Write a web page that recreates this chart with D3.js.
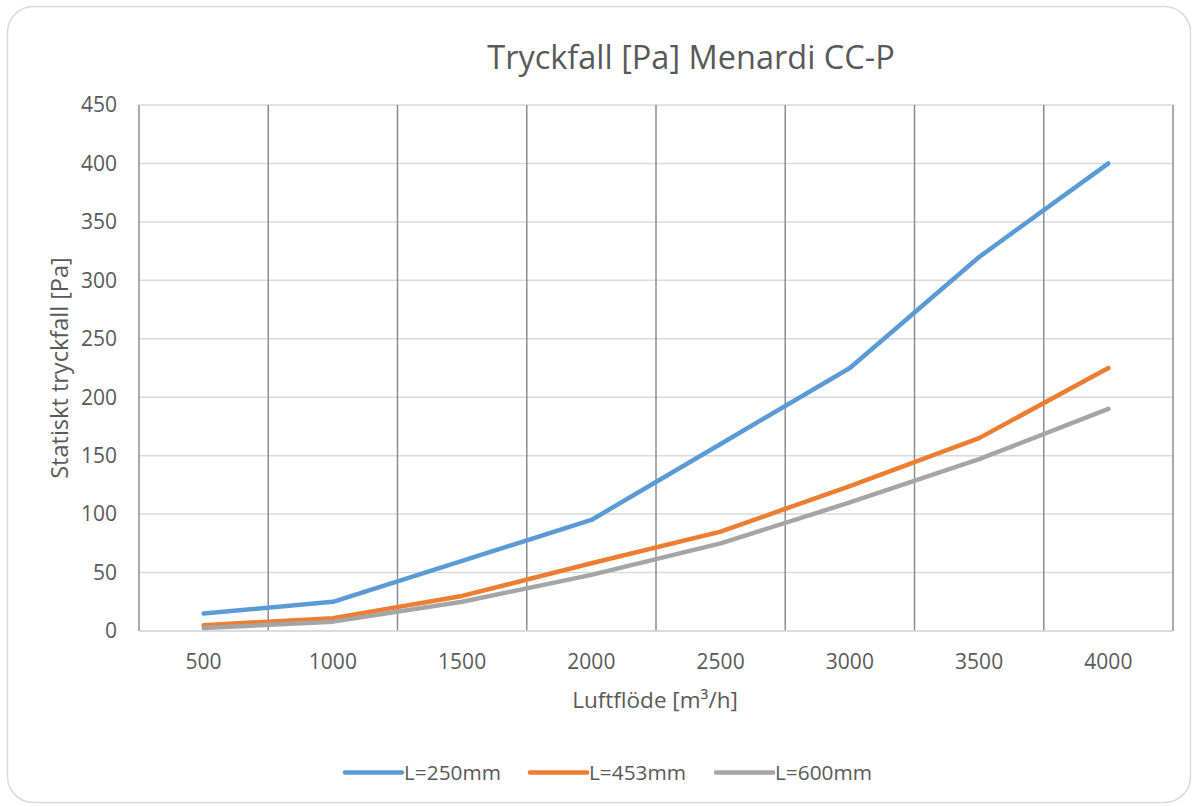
<!DOCTYPE html>
<html>
<head>
<meta charset="utf-8">
<script src="https://cdn.jsdelivr.net/npm/d3@7"></script>
<style>
  body { margin: 0; background: #fff; }
  svg { display: block; font-family: "Open Sans", "Noto Sans", sans-serif; }
</style>
</head>
<body>
<svg id="chart" width="1198" height="807"></svg>
<script>
// luftflöde (kategorier)
const flows = [500, 1000, 1500, 2000, 2500, 3000, 3500, 4000]
// tryckfall per längd
const l250 = [15, 25, 60, 95, 160, 225, 320, 400]
const l453 = [5, 11, 30, 58, 85, 124, 165, 225]
const l600 = [2.5, 8, 25, 48, 75, 110, 147, 190]
const seriesNames = ['L=250mm', 'L=453mm', 'L=600mm']
const yTicks = [0, 50, 100, 150, 200, 250, 300, 350, 400, 450]

const series = [
  { name: seriesNames[0], values: l250, color: '#5b9bd5' },
  { name: seriesNames[1], values: l453, color: '#ed7d31' },
  { name: seriesNames[2], values: l600, color: '#a5a5a5' }
]

const svg = d3.select('#chart')
const m = { left: 139, right: 1173, top: 105, bottom: 631 }

// ram runt diagrammet
svg.append('rect')
  .attr('x', 7.5).attr('y', 6.5)
  .attr('width', 1183).attr('height', 796)
  .attr('rx', 26)
  .attr('fill', '#fff').attr('stroke', '#d9d9d9').attr('stroke-width', 1.5)

const x = d3.scaleBand().domain(flows).range([m.left, m.right])
const y = d3.scaleLinear().domain([0, 450]).range([m.bottom, m.top])

// horisontella stödlinjer
svg.append('g')
  .selectAll('line')
  .data(yTicks)
  .join('line')
  .attr('x1', m.left).attr('x2', m.right)
  .attr('y1', d => y(d)).attr('y2', d => y(d))
  .attr('stroke', '#d9d9d9').attr('stroke-width', 1.5)

// vertikala stödlinjer mellan kategorierna
svg.append('g')
  .selectAll('line')
  .data(flows.concat(['end']))
  .join('line')
  .attr('x1', d => d === 'end' ? m.right : x(d))
  .attr('x2', d => d === 'end' ? m.right : x(d))
  .attr('y1', m.top).attr('y2', m.bottom)
  .attr('stroke', '#8c8c8c').attr('stroke-width', 1.5)

// x-axel (ljus)
svg.append('line')
  .attr('x1', m.left).attr('x2', m.right)
  .attr('y1', m.bottom).attr('y2', m.bottom)
  .attr('stroke', '#d9d9d9').attr('stroke-width', 1.5)

// tick-etiketter y
svg.append('g')
  .selectAll('text')
  .data(yTicks)
  .join('text')
  .attr('x', 117).attr('y', d => y(d))
  .attr('dy', '0.35em')
  .attr('text-anchor', 'end')
  .attr('font-size', 21).attr('fill', '#595959')
  .text(d => d)

// tick-etiketter x
svg.append('g')
  .selectAll('text')
  .data(flows)
  .join('text')
  .attr('x', d => x(d) + x.bandwidth() / 2).attr('y', 662)
  .attr('dy', '0.35em')
  .attr('text-anchor', 'middle')
  .attr('font-size', 21).attr('fill', '#595959')
  .text(d => d)

// linjerna
const line = d3.line()
  .x((d, i) => x(flows[i]) + x.bandwidth() / 2)
  .y(d => y(d))

svg.append('g')
  .selectAll('path')
  .data(series)
  .join('path')
  .attr('d', d => line(d.values))
  .attr('fill', 'none')
  .attr('stroke', d => d.color)
  .attr('stroke-width', 4.5)
  .attr('stroke-linecap', 'round')
  .attr('stroke-linejoin', 'round')

// titel och axeltitlar
svg.append('text')
  .attr('x', 691).attr('y', 58).attr('dy', '0.35em')
  .attr('text-anchor', 'middle')
  .attr('font-size', 32.5).attr('fill', '#595959')
  .text('Tryckfall [Pa] Menardi CC-P')

svg.append('text')
  .attr('x', 655).attr('y', 700).attr('dy', '0.35em')
  .attr('text-anchor', 'middle')
  .attr('font-size', 22.5).attr('fill', '#595959')
  .text('Luftflöde [m³/h]')

svg.append('text')
  .attr('transform', 'translate(60,368) rotate(-90)')
  .attr('dy', '0.35em')
  .attr('text-anchor', 'middle')
  .attr('font-size', 23.5).attr('fill', '#595959')
  .text('Statiskt tryckfall [Pa]')

// förklaring
const legX = [345, 530, 716]
const leg = svg.append('g')
  .selectAll('g')
  .data(series)
  .join('g')
  .attr('transform', (d, i) => `translate(${legX[i]},772.5)`)

leg.append('line')
  .attr('x1', 0).attr('x2', 57)
  .attr('stroke', d => d.color).attr('stroke-width', 4.5)
  .attr('stroke-linecap', 'round')

leg.append('text')
  .attr('x', 59).attr('dy', '0.35em')
  .attr('font-size', 20.8)
  .attr('fill', '#595959')
  .text(d => d.name)
</script>
</body>
</html>
